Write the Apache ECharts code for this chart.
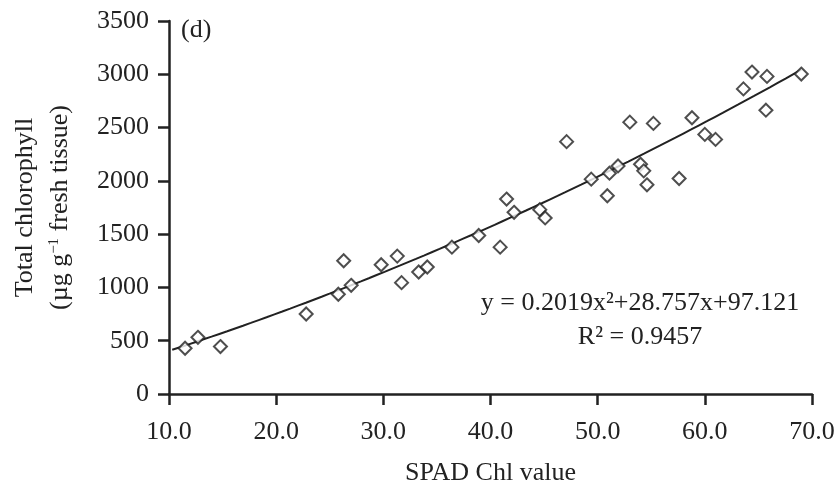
<!DOCTYPE html>
<html>
<head>
<meta charset="utf-8">
<script src="https://cdn.jsdelivr.net/npm/echarts@6/dist/echarts.min.js"></script>
<style>html,body{margin:0;padding:0;background:#fff}#c{width:840px;height:491px}</style>
</head>
<body>
<div id="c"></div>
<script>
// SPAD Chl value (x) and total chlorophyll (y)
const spad = [11.5, 12.7, 14.8, 22.8, 25.8, 26.3, 27.0, 29.8, 31.3, 31.7, 33.3, 34.1, 36.4, 38.9, 40.9, 41.5, 42.2, 44.6, 45.1,
  47.1, 49.4, 50.9, 51.1, 51.9, 53.0, 54.0, 54.3, 54.6, 55.2, 57.6, 58.8, 60.0, 61.0, 63.6, 64.4, 65.8, 65.7, 69.0];
const chl = [429, 532, 445, 751, 936, 1250, 1020, 1213, 1294, 1045, 1145, 1192, 1378, 1487, 1378, 1829, 1705, 1730, 1652,
  2368, 2016, 1860, 2072, 2140, 2551, 2156, 2094, 1963, 2539, 2022, 2592, 2436, 2389, 2863, 3021, 2980, 2663, 3002];
// printed fit: y = a x^2 + b x + c
const fitCoef = [0.2019, 28.757, 97.121];
const fitRange = [10.3, 69.0];
const xTicks = ['10.0', '20.0', '30.0', '40.0', '50.0', '60.0', '70.0'];
const yTicks = [0, 500, 1000, 1500, 2000, 2500, 3000, 3500];
const eqText = ['y = 0.2019x\u00b2+28.757x+97.121', 'R\u00b2 = 0.9457'];

const points = spad.map((x, i) => [x, chl[i]]);
const fit = [];
for (let k = 0; k <= 80; k++) {
  const x = fitRange[0] + (fitRange[1] - fitRange[0]) * k / 80;
  fit.push([x, fitCoef[0] * x * x + fitCoef[1] * x + fitCoef[2]]);
}

const FONT = '"Liberation Serif", "Times New Roman", serif';
const INK = '#222';
const chart = echarts.init(document.getElementById('c'));
chart.setOption({
  animation: false,
  backgroundColor: '#fff',
  grid: { left: 167, right: 28, top: 21, bottom: 95, containLabel: false },
  xAxis: {
    type: 'value', min: 10, max: 70, interval: 10,
    name: 'SPAD Chl value', nameLocation: 'middle', nameGap: 66,
    nameTextStyle: { fontFamily: FONT, fontSize: 26, color: INK },
    axisLine: { show: true, onZero: false, lineStyle: { color: INK, width: 2.5 } },
    axisTick: { show: true, inside: false, length: 11, lineStyle: { color: INK, width: 2.5 } },
    axisLabel: { margin: 25, fontFamily: FONT, fontSize: 26, color: INK,
      formatter: v => xTicks[Math.round((v - 10) / 10)] },
    splitLine: { show: false }
  },
  yAxis: {
    type: 'value', min: 0, max: 3500, interval: 500,
    name: '{n|Total chlorophyll}\n{n|(\u00b5g g}{s|\u22121}{n| fresh tissue)}',
    nameLocation: 'middle', nameGap: 91, nameRotate: 90,
    nameTextStyle: { fontFamily: FONT, fontSize: 26, color: INK, lineHeight: 35,
      rich: {
        n: { fontFamily: FONT, fontSize: 26, color: INK, lineHeight: 35 },
        s: { fontFamily: FONT, fontSize: 15, color: INK, lineHeight: 35, verticalAlign: 'top', padding: [4, 0, 0, 0] }
      } },
    axisLine: { show: true, onZero: false, lineStyle: { color: INK, width: 2.5 } },
    axisTick: { show: true, inside: false, length: 11, lineStyle: { color: INK, width: 2.5 } },
    axisLabel: { margin: 20, fontFamily: FONT, fontSize: 26, color: INK,
      formatter: v => String(yTicks[Math.round(v / 500)]) },
    splitLine: { show: false }
  },
  series: [
    {
      type: 'line', data: fit, showSymbol: false, smooth: false,
      lineStyle: { color: INK, width: 2 }, z: 2, silent: true
    },
    {
      type: 'scatter', data: points, symbol: 'diamond', symbolSize: 13,
      itemStyle: { color: '#fff', borderColor: INK, borderWidth: 2 }, z: 3
    }
  ],
  graphic: [
    { type: 'text', left: 181, top: 17, style: { text: '(d)', fontFamily: FONT, fontSize: 26, fill: INK } },
    { type: 'text', x: 640, y: 303, style: { text: eqText[0], fontFamily: FONT, fontSize: 26, fill: INK, align: 'center', verticalAlign: 'middle' } },
    { type: 'text', x: 640, y: 337, style: { text: eqText[1], fontFamily: FONT, fontSize: 26, fill: INK, align: 'center', verticalAlign: 'middle' } }
  ]
});
</script>
</body>
</html>
